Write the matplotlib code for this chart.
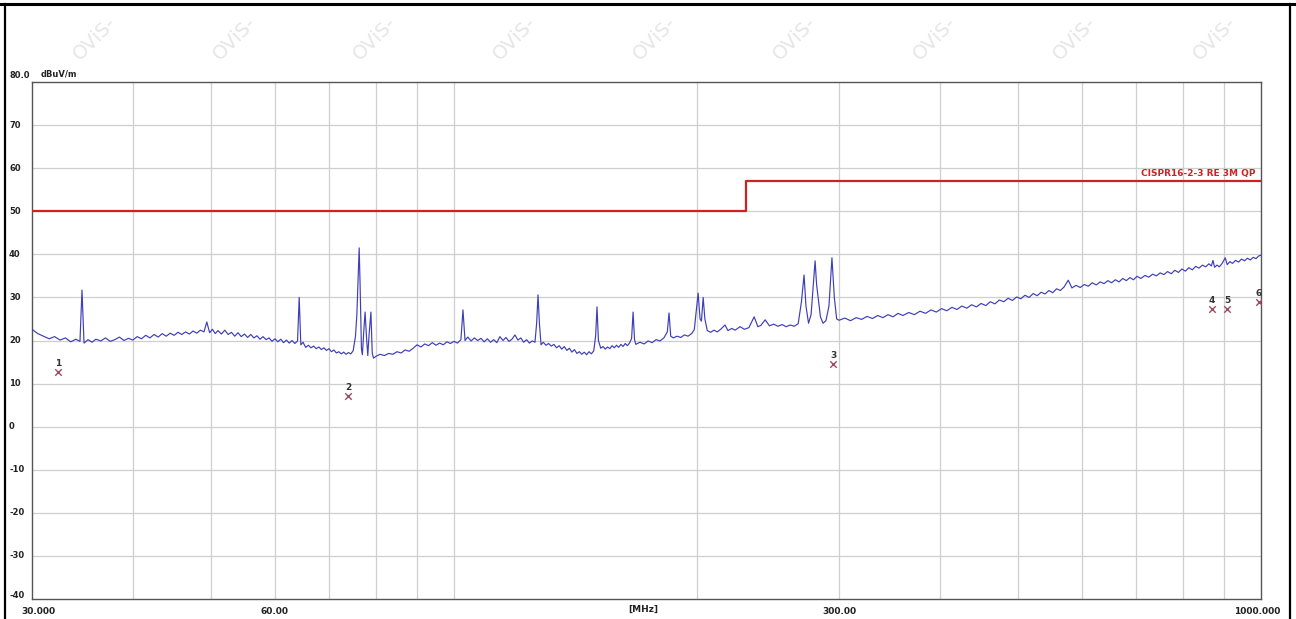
import matplotlib

matplotlib.use("Agg")
import matplotlib.pyplot as plt
import numpy as np

# trace (MHz, dBuV/m)
FREQ_MHZ = [
    30.0, 30.5, 31.0, 31.5, 32.0, 32.5, 33.0, 33.5, 34.0, 34.4, 34.6, 34.8, 35.2, 35.6,
    36.0, 36.5, 37.0, 37.5, 38.0, 38.5, 39.0, 39.5, 40.0, 40.5, 41.0, 41.5, 42.0, 42.5,
    43.0, 43.5, 44.0, 44.5, 45.0, 45.5, 46.0, 46.5, 47.0, 47.5, 48.0, 48.5, 49.0, 49.4,
    49.8, 50.2, 50.6, 51.0, 51.5, 52.0, 52.5, 53.0, 53.5, 54.0, 54.5, 55.0, 55.5, 56.0,
    56.5, 57.0, 57.5, 58.0, 58.5, 59.0, 59.5, 60.0, 60.5, 61.0, 61.5, 62.0, 62.5, 63.0,
    63.5, 64.0, 64.3, 64.6, 65.0, 65.5, 66.0, 66.5, 67.0, 67.5, 68.0, 68.5, 69.0, 69.5,
    70.0, 70.5, 71.0, 71.5, 72.0, 72.5, 73.0, 73.5, 74.0, 74.5, 75.0, 75.5, 75.8, 76.1,
    76.3, 76.5, 76.8, 77.0, 77.3, 77.6, 77.9, 78.2, 78.5, 78.9, 79.2, 79.5, 80.0, 81.0,
    82.0, 83.0, 84.0, 85.0, 86.0, 87.0, 88.0, 89.0, 90.0, 91.0, 92.0, 93.0, 94.0, 95.0,
    96.0, 97.0, 98.0, 99.0, 100.0, 101.0, 102.0, 102.6, 103.2, 104.0, 105.0, 106.0, 107.0,
    108.0, 109.0, 110.0, 111.0, 112.0, 113.0, 114.0, 115.0, 116.0, 117.0, 118.0, 119.0,
    120.0, 121.0, 122.0, 123.0, 124.0, 125.0, 126.0, 126.6, 127.1, 127.6, 128.2, 129.0,
    130.0, 131.0, 132.0, 133.0, 134.0, 135.0, 136.0, 137.0, 138.0, 139.0, 140.0, 141.0,
    142.0, 143.0, 144.0, 145.0, 146.0, 147.0, 148.0, 149.0, 149.8, 150.4, 151.0, 152.0,
    153.0, 154.0, 155.0, 156.0, 157.0, 158.0, 159.0, 160.0, 161.0, 162.0, 163.0, 164.0,
    165.0, 166.0, 166.7, 167.4, 168.0, 170.0, 172.0, 174.0, 176.0, 178.0, 180.0, 182.0,
    183.8, 184.7, 185.6, 187.0, 189.0, 191.0, 193.0, 195.0, 197.0, 198.5, 199.4, 200.7,
    201.8, 202.6, 203.6, 204.6, 206.0, 208.0, 210.0, 212.0, 214.0, 216.7, 218.5, 221.0,
    223.0, 226.2, 229.0, 232.0, 235.5, 238.0, 240.0, 243.0, 246.0, 249.0, 252.0, 255.0,
    258.0, 261.0, 264.0, 267.0, 269.5, 271.5, 273.0, 275.0, 277.0, 280.2, 281.4, 282.6,
    284.5, 286.6, 289.0, 291.5, 294.0, 296.0, 298.0, 300.0, 305.0, 310.0, 315.0, 320.0,
    325.0, 330.0, 335.0, 340.0, 345.0, 350.0, 355.0, 360.0, 366.0, 372.0, 378.0, 384.0,
    390.0, 396.0, 402.0, 408.0, 414.0, 420.0, 426.0, 432.0, 438.0, 444.0, 450.0, 456.0,
    462.0, 468.0, 474.0, 480.0, 486.0, 492.0, 498.0, 504.0, 510.0, 516.0, 522.0, 528.0,
    534.0, 540.0, 546.0, 552.0, 558.0, 564.0, 570.0, 577.0, 583.0, 590.0, 597.0, 604.0,
    611.0, 618.0, 625.0, 632.0, 639.0, 646.0, 653.0, 660.0, 667.0, 674.0, 681.0, 688.0,
    695.0, 702.0, 710.0, 718.0, 726.0, 734.0, 742.0, 750.0, 758.0, 766.0, 774.0, 782.0,
    790.0, 798.0, 806.0, 814.0, 822.0, 830.0, 838.0, 846.0, 854.0, 862.0, 868.0, 872.0,
    876.0, 882.0, 888.0, 895.0, 903.0, 908.0, 915.0, 922.0, 930.0, 938.0, 946.0, 954.0,
    962.0, 970.0, 978.0, 986.0, 993.0, 1000.0,
]
LEVEL_DB = [
    22.6, 21.6, 21.0, 20.4, 20.9, 20.1, 20.6, 19.7, 20.3, 19.8, 31.7, 19.4, 20.2, 19.6,
    20.3, 19.9, 20.6, 19.8, 20.2, 20.8, 20.0, 20.5, 20.1, 20.9, 20.4, 21.2, 20.6, 21.4,
    20.8, 21.6, 21.0, 21.7, 21.2, 21.9, 21.4, 22.0, 21.5, 22.2, 21.7, 22.4, 22.0, 24.3,
    21.8, 22.6, 21.6, 22.3, 21.5, 22.4, 21.4, 21.9, 21.0, 21.8, 20.9, 21.5, 20.7, 21.4,
    20.6, 21.1, 20.3, 20.9, 20.2, 20.6, 19.8, 20.4, 19.7, 20.3, 19.5, 20.1, 19.4, 20.0,
    19.3, 19.9, 30.0, 19.0, 19.6, 18.4, 18.9, 18.3, 18.7, 18.1, 18.5, 17.9, 18.3, 17.7,
    18.1, 17.4, 17.8, 17.1, 17.4, 16.9, 17.3, 16.8, 17.2, 16.9, 17.6, 21.0, 26.0, 35.0,
    41.5, 33.0, 18.0, 16.7, 22.0, 26.6, 21.0, 16.5, 21.5, 26.6, 17.0, 15.9, 16.3, 16.8,
    16.5, 17.0, 16.8, 17.4, 17.1, 17.8, 17.5, 18.2, 19.0, 18.5, 19.2, 18.8, 19.5, 18.9,
    19.4, 19.0, 19.7, 19.3, 19.8, 19.4, 20.2, 27.1, 20.0, 20.8, 19.9, 20.6, 20.0,
    20.5, 19.7, 20.4, 19.6, 20.2, 19.5, 20.9, 20.0, 20.7, 19.8, 20.3, 21.3,
    20.1, 20.6, 19.6, 20.2, 19.4, 19.9, 19.6, 24.0, 30.6, 24.0, 19.0, 19.6,
    18.9, 19.3, 18.7, 19.1, 18.3, 18.8, 18.0, 18.6, 17.7, 18.2, 17.3, 17.9,
    17.0, 17.4, 16.8, 17.3, 16.7, 17.4, 16.9, 17.6, 21.0, 27.8, 20.0, 18.2,
    18.6, 18.0, 18.5, 18.1, 18.8, 18.3, 18.9, 18.4, 19.1, 18.6, 19.3, 18.8,
    19.4, 20.5, 26.6, 20.2, 19.1, 19.6, 19.2, 19.9, 19.5, 20.2, 19.9, 20.6,
    22.0, 26.4, 21.0, 20.6, 21.0, 20.7, 21.3, 21.0, 21.6, 22.5, 26.0, 31.0,
    25.0, 24.5, 30.0, 25.0, 22.3, 21.9, 22.4, 22.0, 22.6, 23.6, 22.3, 22.8,
    22.4, 23.2, 22.6, 23.0, 25.5, 23.2, 23.5, 24.8, 23.4, 23.8, 23.3, 23.7,
    23.2, 23.6, 23.3, 23.9, 29.0, 35.2, 28.0, 24.0, 26.0, 38.5, 33.0, 30.0,
    25.5, 24.0, 24.6, 28.0, 39.2, 30.0, 25.0, 24.7, 25.2, 24.6, 25.3, 24.9,
    25.6, 25.1, 25.8, 25.3, 26.0, 25.5, 26.3, 25.8, 26.5, 26.0, 26.8, 26.3,
    27.1, 26.6, 27.4, 26.9, 27.7, 27.2, 28.0, 27.5, 28.3, 27.8, 28.6, 28.1,
    29.0, 28.5, 29.4, 29.0, 29.8, 29.3, 30.1, 29.7, 30.5, 30.0, 30.9, 30.4,
    31.2, 30.8, 31.6, 31.1, 32.0, 31.6, 32.4, 34.0, 32.2, 32.8, 32.3, 33.0,
    32.6, 33.4, 32.9, 33.6, 33.2, 33.9, 33.4, 34.1, 33.6, 34.4, 33.9, 34.6,
    34.1, 34.9, 34.4, 35.1, 34.7, 35.4, 35.0, 35.7, 35.3, 36.0, 35.5, 36.3,
    35.8, 36.6, 36.1, 36.9, 36.4, 37.2, 36.8, 37.5, 37.1, 37.8, 37.3, 38.6,
    37.0, 37.5, 37.1, 37.9, 39.2, 37.6, 38.3, 37.9, 38.6, 38.2, 38.9, 38.5,
    39.1, 38.7, 39.3, 39.0, 39.6, 39.8,
]

# CISPR limit (step at 230 MHz)
LIMIT_FREQ = [30.0, 230.0, 230.0, 1000.0]
LIMIT_DB = [50.0, 50.0, 57.0, 57.0]
LIMIT_NAME = "CISPR16-2-3 RE 3M QP"

# final QP markers
MARK_ID = ["1", "2", "3", "4", "5", "6"]
MARK_FREQ = [32.3, 73.9, 295.0, 869.0, 908.0, 994.0]
MARK_DB = [12.7, 7.1, 14.6, 27.3, 27.3, 29.0]

Y_TICKS = [80, 70, 60, 50, 40, 30, 20, 10, 0, -10, -20, -30, -40]
X_GRID = [40, 50, 60, 70, 80, 90, 100, 200, 300, 400, 500, 600, 700, 800, 900]
X_LABELS = [(30.0, "30.000"), (60.0, "60.00"), (300.0, "300.00"), (1000.0, "1000.000")]

W, H = 1296, 619
fig = plt.figure(figsize=(W / 100, H / 100), dpi=100)

# axes placed in pixel coordinates of the reference
x0, x1, y0, y1 = 32, 1261, 82, 599
ax = fig.add_axes([x0 / W, 1 - y1 / H, (x1 - x0) / W, (y1 - y0) / H])
ax.set_xscale("log")
ax.set_xlim(30, 1000)
ax.set_ylim(-40, 80)
ax.set_xticks([])
ax.set_yticks([])
ax.minorticks_off()
for s in ax.spines.values():
    s.set_color("#555555")
    s.set_linewidth(1.0)

for f in X_GRID:
    ax.axvline(f, color="#cfcfcf", lw=0.9, zorder=0)
for v in Y_TICKS[1:-1]:
    ax.axhline(v, color="#cfcfcf", lw=0.9, zorder=0)

ax.plot(FREQ_MHZ, LEVEL_DB, color="#3e3eb8", lw=0.85, zorder=3)
ax.plot(LIMIT_FREQ, LIMIT_DB, color="#cc2222", lw=1.6, zorder=4)
ax.text(985, 57.8, LIMIT_NAME, color="#cc2222", fontsize=6.5, fontweight="bold",
        ha="right", va="bottom", family=["Liberation Sans Narrow", "DejaVu Sans"])

ax.scatter(MARK_FREQ, MARK_DB, marker="x", s=22, color="#a04a62", lw=1.0, zorder=5)
for mid, f, v in zip(MARK_ID, MARK_FREQ, MARK_DB):
    ax.annotate(mid, (f, v), xytext=(0, 3), textcoords="offset points", ha="center",
                va="bottom", fontsize=6.5, color="#333333", fontweight="bold")

# tick labels drawn as figure text, like the instrument software
for v in Y_TICKS:
    ypix = y0 + (80 - v) * (y1 - y0) / 120
    if v == 80:
        lab, ypix = "80.0", ypix - 7
    elif v == -40:
        lab, ypix = str(v), ypix - 4
    else:
        lab = str(v)
    fig.text(9 / W, 1 - ypix / H, lab, fontsize=6, fontweight="bold", color="#222222",
             ha="left", va="center")
fig.text(41 / W, 1 - 74 / H, "dBuV/m", fontsize=6, fontweight="bold", color="#222222",
         ha="left", va="center")
for f, lab in X_LABELS:
    fx = x0 + np.log10(f / 30) / np.log10(1000 / 30) * (x1 - x0)
    if f == 30.0:
        fx += 6
    elif f == 1000.0:
        fx -= 4
    fig.text(fx / W, 1 - 611 / H, lab, fontsize=6.5, fontweight="bold", color="#222222",
             ha="center", va="center")
fig.text(643 / W, 1 - 609 / H, "[MHz]", fontsize=6.5, fontweight="bold", color="#222222",
         ha="center", va="center")

# outer frame of the report page
fig.add_artist(plt.Line2D([0, 1], [1 - 4 / H, 1 - 4 / H], color="black", lw=2.2))
fig.add_artist(plt.Line2D([5 / W, 5 / W], [0, 1 - 4 / H], color="black", lw=1.6))
fig.add_artist(plt.Line2D([1290 / W, 1290 / W], [0, 1 - 4 / H], color="black", lw=1.6))

# watermark row along the top
for wx in range(95, 1296, 140):
    fig.text(wx / W, 1 - 38 / H, "OViS-", fontsize=14, color="#e6e6e6", rotation=45,
             ha="center", va="center", zorder=0)

fig.savefig("out.png", dpi=100)
